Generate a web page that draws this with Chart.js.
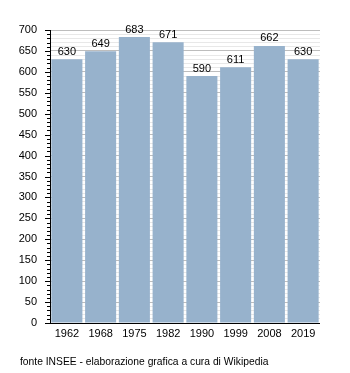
<!DOCTYPE html>
<html><head><meta charset="utf-8">
<script src="https://cdn.jsdelivr.net/npm/chart.js@4/dist/chart.umd.min.js"></script>
<style>
html,body{margin:0;padding:0;background:#fff;}
#wrap{position:relative;width:350px;height:373px;}
#note{position:absolute;left:20px;top:356px;font:10.3px "Liberation Sans",Arial,sans-serif;color:#000;white-space:nowrap;}
</style></head><body>
<div id="wrap"><canvas id="c" width="350" height="373"></canvas>
<div id="note">fonte INSEE - elaborazione grafica a cura di Wikipedia</div></div>
<script>
const years = ["1962","1968","1975","1982","1990","1999","2008","2019"];
const population = [630,649,683,671,590,611,662,630];
const yMax = 700, yMinorStep = 10, yMajorStep = 50;

const valueLabels = {
  id:'valueLabels',
  afterDatasetsDraw(chart){
    const ctx = chart.ctx, meta = chart.getDatasetMeta(0);
    ctx.save();
    ctx.font = '11px "Liberation Sans", Arial, sans-serif';
    ctx.fillStyle = '#000'; ctx.textAlign='center'; ctx.textBaseline='bottom';
    meta.data.forEach((b,i)=>ctx.fillText(String(population[i]), b.x, b.y-2));
    ctx.restore();
  }
};
const axisTicks = {
  id:'axisTicks',
  afterDraw(chart){
    const ctx = chart.ctx, y = chart.scales.y, a = chart.chartArea;
    ctx.save();
    ctx.strokeStyle='#000'; ctx.lineWidth=1;
    ctx.beginPath();
    for(let v=0; v<=yMax; v+=yMinorStep){
      const py = Math.round(y.getPixelForValue(v))+0.5;
      const len = (v % yMajorStep === 0) ? 5 : 3;
      ctx.moveTo(a.left-len, py); ctx.lineTo(a.left, py);
    }
    ctx.moveTo(a.left+0.5, a.top); ctx.lineTo(a.left+0.5, a.bottom);
    const by = Math.round(y.getPixelForValue(0))+0.5;
    ctx.moveTo(a.left-5, by); ctx.lineTo(a.right, by);
    ctx.stroke();
    ctx.restore();
  }
};
new Chart(document.getElementById('c'), {
  type:'bar',
  data:{labels:years, datasets:[{data:population, backgroundColor:'#97b2cc', borderWidth:0, barPercentage:0.92, categoryPercentage:1}]},
  options:{
    responsive:false, animation:false,
    layout:{padding:{top:30,right:30,bottom:0,left:0}},
    plugins:{legend:{display:false}, tooltip:{enabled:false}},
    scales:{
      x:{
        afterFit(s){s.height=50;},
        grid:{display:false, drawTicks:false},
        border:{display:false},
        ticks:{padding:4, color:'#000', font:{family:'"Liberation Sans", Arial, sans-serif', size:11}, maxRotation:0}
      },
      y:{
        min:0, max:yMax,
        afterFit(s){s.width=50;},
        afterBuildTicks(s){ s.ticks=[]; for(let v=0; v<=yMax; v+=yMinorStep) s.ticks.push({value:v}); },
        grid:{drawTicks:false, color:(c)=> (c.tick && c.tick.value % yMajorStep===0) ? '#bdbdbd' : '#e8e8e8'},
        border:{display:false},
        ticks:{padding:13, color:'#000', autoSkip:false, font:{family:'"Liberation Sans", Arial, sans-serif', size:11},
          callback:(v)=> v % yMajorStep===0 ? String(v) : ''}
      }
    }
  },
  plugins:[valueLabels, axisTicks]
});
</script></body></html>
